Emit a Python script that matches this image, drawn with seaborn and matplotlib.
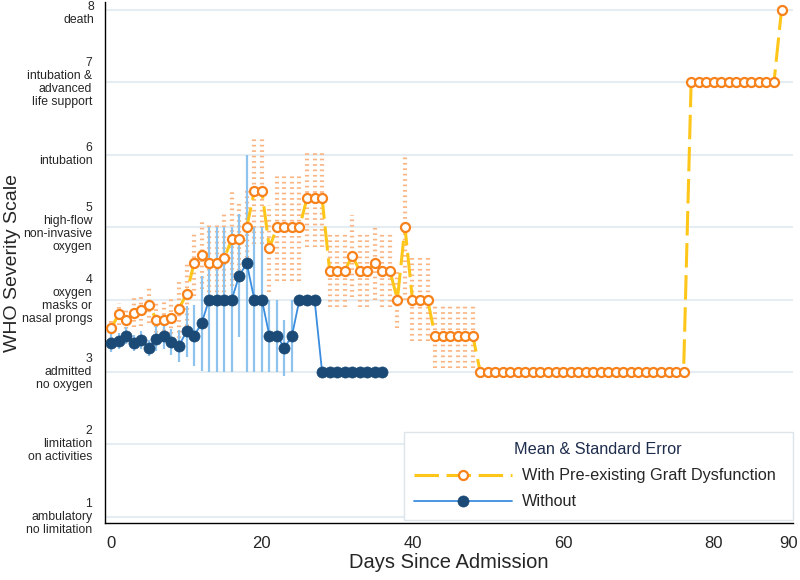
# plot.py
import numpy as np
import pandas as pd
import seaborn as sns
import matplotlib.pyplot as plt

sns.set_style("white")
plt.rcParams["font.family"] = ["Liberation Sans", "DejaVu Sans"]

# --- data ---
# patients with pre-existing graft dysfunction, days 0..89
days_graft = np.arange(0, 90)
mean_graft = [3.6, 3.8, 3.71, 3.82, 3.85, 3.93, 3.72, 3.71, 3.75, 3.87,
              4.08, 4.5, 4.62, 4.5, 4.5, 4.57, 4.83, 4.83, 5.0, 5.5,
              5.5, 4.71, 5.0, 5.0, 5.0, 5.0, 5.4, 5.4, 5.4, 4.4,
              4.4, 4.4, 4.6, 4.4, 4.4, 4.5, 4.4, 4.4, 4.0, 5.0,
              4.0, 4.0, 4.0, 3.5, 3.5, 3.5, 3.5, 3.5, 3.5, 3.0,
              3.0, 3.0, 3.0, 3.0, 3.0, 3.0, 3.0, 3.0, 3.0, 3.0,
              3.0, 3.0, 3.0, 3.0, 3.0, 3.0, 3.0, 3.0, 3.0, 3.0,
              3.0, 3.0, 3.0, 3.0, 3.0, 3.0, 3.0, 7.0, 7.0, 7.0,
              7.0, 7.0, 7.0, 7.0, 7.0, 7.0, 7.0, 7.0, 7.0, 8.0]
se_graft = [0.15, 0.15, 0.18, 0.2, 0.22, 0.25, 0.25, 0.3, 0.3, 0.4,
            0.45, 0.45, 0.48, 0.55, 0.55, 0.62, 0.65, 0.5, 0.5, 0.73,
            0.73, 0.6, 0.75, 0.75, 0.75, 0.75, 0.67, 0.67, 0.67, 0.5,
            0.5, 0.5, 0.57, 0.5, 0.5, 0.5, 0.5, 0.5, 0.4, 1.0,
            0.58, 0.58, 0.58, 0.45, 0.45, 0.45, 0.45, 0.45, 0.45, 0,
            0, 0, 0, 0, 0, 0, 0, 0, 0, 0,
            0, 0, 0, 0, 0, 0, 0, 0, 0, 0,
            0, 0, 0, 0, 0, 0, 0, 0, 0, 0,
            0, 0, 0, 0, 0, 0, 0, 0, 0, 0]

# patients without, days 0..36
days_without = np.arange(0, 37)
mean_without = [3.4, 3.43, 3.5, 3.4, 3.44, 3.33, 3.46, 3.5, 3.41, 3.36,
                3.56, 3.5, 3.67, 4.0, 4.0, 4.0, 4.0, 4.33, 4.5, 4.0,
                4.0, 3.5, 3.5, 3.33, 3.5, 4.0, 4.0, 4.0, 3.0, 3.0,
                3.0, 3.0, 3.0, 3.0, 3.0, 3.0, 3.0]
se_without = [0.12, 0.11, 0.12, 0.11, 0.12, 0.11, 0.17, 0.19, 0.18, 0.22,
              0.35, 0.42, 0.66, 1.0, 1.0, 1.0, 1.0, 0.85, 1.5, 1.0,
              1.0, 0.5, 0.5, 0.39, 0.5, 0, 0, 0, 0, 0,
              0, 0, 0, 0, 0, 0, 0]

who_ticks = [1, 2, 3, 4, 5, 6, 7, 8]
who_labels = ["1\nambulatory\nno limitation",
              "2\nlimitation\non activities",
              "3\nadmitted\nno oxygen",
              "4\noxygen\nmasks or\nnasal prongs",
              "5\nhigh-flow\nnon-invasive\noxygen",
              "6\nintubation",
              "7\nintubation &\nadvanced\nlife support",
              "8\ndeath"]
x_ticks = [0, 20, 40, 60, 80, 90]

df_g = pd.DataFrame({"day": days_graft, "mean": mean_graft, "se": se_graft})
df_w = pd.DataFrame({"day": days_without, "mean": mean_without, "se": se_without})

fig = plt.figure(figsize=(8, 5.8), dpi=100)
ax = fig.add_axes([0.131, 0.098, 0.86, 0.8985])

# light horizontal grid
for t in who_ticks:
    ax.axhline(t, color="#e6edf2", lw=1.5, zorder=0)

# standard error bars
eg = df_g[df_g["se"] > 0]
ax.vlines(eg["day"], eg["mean"] - eg["se"], eg["mean"] + eg["se"],
          colors="#f9b584", lw=3.0, linestyles=(0, (0.4, 0.9)), zorder=1)
ew = df_w[df_w["se"] > 0]
ax.vlines(ew["day"], ew["mean"] - ew["se"], ew["mean"] + ew["se"],
          colors="#8ec3ee", lw=1.6, zorder=2)

# mean lines
sns.lineplot(data=df_g, x="day", y="mean", ax=ax, errorbar=None,
             color="#ffc61a", lw=2.2, linestyle=(0, (8, 2.5)),
             marker="o", markersize=6.5, markerfacecolor="white",
             markeredgecolor="#f7821b", markeredgewidth=1.6,
             label="With Pre-existing Graft Dysfunction", zorder=4)
sns.lineplot(data=df_w, x="day", y="mean", ax=ax, errorbar=None,
             color="#3a8dde", lw=1.3,
             marker="o", markersize=8, markerfacecolor="#1b4a76",
             markeredgecolor="#1b4a76", markeredgewidth=0.5,
             label="Without", zorder=3)

ax.set_xlim(-0.85, 90.5)
ax.set_ylim(0.91, 8.11)
ax.set_xticks(x_ticks)
ax.set_yticks(who_ticks)
# the top label is drawn separately, nudged down so it stays in the figure
ax.set_yticklabels(who_labels[:-1] + [""], fontsize=8.8, linespacing=1.12,
                   ha="right", va="center", multialignment="right")
ax.annotate(who_labels[-1], xy=(0, who_ticks[-1]),
            xycoords=ax.get_yaxis_transform(), xytext=(-7.3, -2.5),
            textcoords="offset points", ha="right", va="center",
            multialignment="right", fontsize=8.8, linespacing=1.12,
            annotation_clip=False)
ax.tick_params(axis="x", labelsize=12, length=6, width=1, direction="out", pad=3)
ax.tick_params(axis="y", length=6, width=1, direction="out", pad=3)
ax.set_xlabel("Days Since Admission", fontsize=14.5, labelpad=2)
ax.set_ylabel("WHO Severity Scale", fontsize=14)
ax.yaxis.set_label_coords(-0.122, 0.5)

for side in ["top", "right"]:
    ax.spines[side].set_visible(False)
for side in ["left", "bottom"]:
    ax.spines[side].set_color("black")
    ax.spines[side].set_linewidth(1)

leg = ax.legend(loc="lower left", bbox_to_anchor=(0.4346, 0.006, 0.565, 0.17),
                mode="expand", borderaxespad=0,
                title="Mean & Standard Error", fontsize=11.7,
                title_fontsize=11.7, handlelength=6, handletextpad=0.6,
                labelspacing=0.68, frameon=True, fancybox=False,
                framealpha=1, edgecolor="#dde4ea", borderpad=0.65)
leg.get_title().set_color("#1f2d4d")
leg.get_frame().set_linewidth(1)

fig.savefig("out.png", dpi=100)
plt.close(fig)
